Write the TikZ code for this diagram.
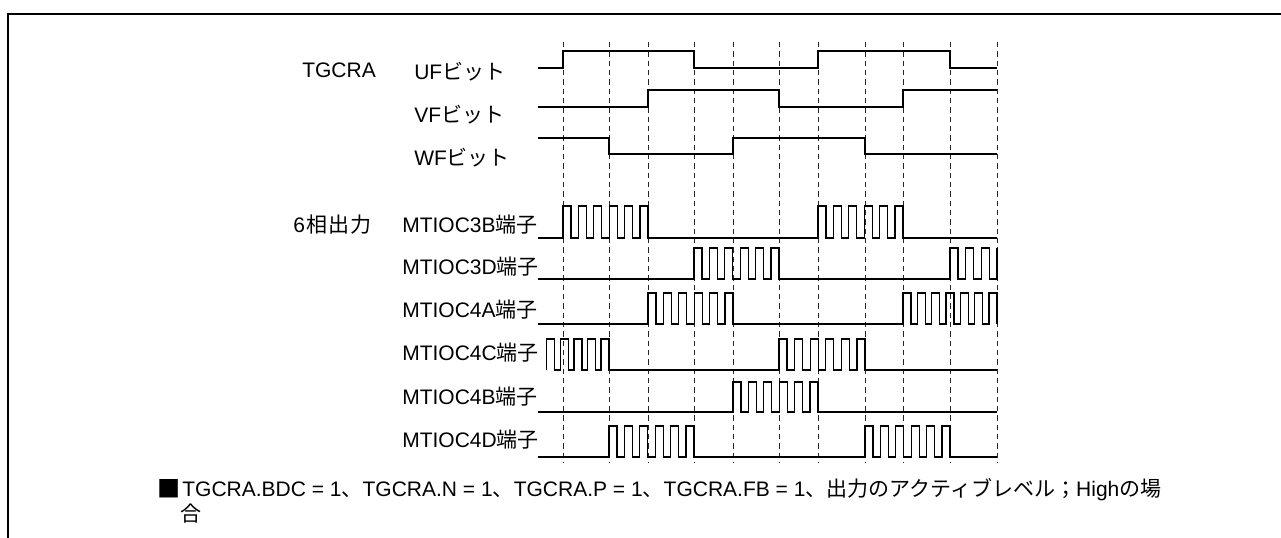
\documentclass[tikz,border=0pt]{standalone}
\usepackage{fontspec}
\usepackage{graphicx}
\setmainfont{Liberation Sans}
\newfontfamily\jpfont{Noto Sans CJK JP}
\newcommand\jtxt[1]{{\jpfont #1}}
% start, period, count-1, low level, high level
\newcommand\pulses[5]{foreach \i in {0,...,#3} { -- ({#1+\i*#2},#4) -- ({#1+\i*#2},#5) -- ({#1+\i*#2+8},#5) -- ({#1+\i*#2+8},#4) }}
\begin{document}
\begin{tikzpicture}[x=0.75pt,y=-0.75pt,
  sig/.style={line width=0.95pt,line join=miter},
  dashline/.style={line width=0.7pt,black!85,dash pattern=on 4pt off 3pt},
  lbl/.style={anchor=west,inner sep=0pt,font=\fontsize{15.75}{18}\selectfont},
  frame/.style={line width=2.2pt,line join=miter}]
\useasboundingbox (0,0) rectangle (1281,538);
\draw[frame] (1290,14) -- (8,14) -- (8,545);
% dashed time markers
\foreach \x in {563,609,648,694,733,779,818,865,903,950,997}
  \draw[dashline] (\x,42) -- (\x,463);
% labels
\node[lbl] (tgcra) at (302,70) {TGCRA};
\node[lbl] (uf) at (414,72) {UF\jtxt{ビット}};
\node[lbl] (vf) at (414,115) {VF\jtxt{ビット}};
\node[lbl] (wf) at (414,158) {WF\jtxt{ビット}};
\node[lbl] (six) at (293,225) {6\jtxt{\kern1pt 相\kern1pt 出\kern1pt 力}};
\node[lbl] (l3b) at (402,225) {MTIOC3B\jtxt{端子}};
\node[lbl] (l3d) at (402,267) {MTIOC3D\jtxt{端子}};
\node[lbl] (l4a) at (402,310) {MTIOC4A\jtxt{端子}};
\node[lbl] (l4c) at (402,353) {MTIOC4C\jtxt{端子}};
\node[lbl] (l4b) at (402,397) {MTIOC4B\jtxt{端子}};
\node[lbl] (l4d) at (402,440) {MTIOC4D\jtxt{端子}};
\node[lbl] (note1) at (157,490) {\raisebox{-0.02em}{\scalebox{1.1}{\jtxt{■}}}\kern1.5pt TGCRA.BDC = 1\jtxt{、}TGCRA.N = 1\jtxt{、}TGCRA.P = 1\jtxt{、}TGCRA.FB = 1\jtxt{、出力のアクティブレベル；}High\jtxt{の場}};
\node[lbl] (note2) at (180,514) {\jtxt{合}};
% TGCRA bits
\draw[sig] (538,68) -- (563,68) -- (563,51) -- (694,51) -- (694,68) -- (818,68) -- (818,51) -- (950,51) -- (950,68) -- (997,68);
\draw[sig] (538,107) -- (648,107) -- (648,90) -- (779,90) -- (779,107) -- (903,107) -- (903,90) -- (997,90);
\draw[sig] (538,138) -- (609,138) -- (609,154) -- (733,154) -- (733,138) -- (865,138) -- (865,154) -- (997,154);
% six-phase outputs
\draw[sig] (538,238) \pulses{563}{15.4}{5}{238}{206} \pulses{818}{15.4}{5}{238}{206} -- (997,238);
\draw[sig] (538,279) \pulses{694}{15.4}{5}{279}{248} \pulses{950}{15.67}{2}{279}{248} -- (997,279) -- (997,248);
\draw[sig] (538,324) \pulses{648}{15.4}{5}{324}{293} \pulses{903}{14.33}{6}{324}{293};
\draw[sig] (546.7,370) \pulses{546.7}{13.6}{4}{370}{339} \pulses{779}{15.6}{5}{370}{339} -- (997,370);
\draw[sig] (538,412) \pulses{733}{15.4}{5}{412}{382} -- (997,412);
\draw[sig] (538,457) \pulses{609}{15.4}{5}{457}{426} \pulses{865}{15.4}{5}{457}{426} -- (997,457);
\end{tikzpicture}
\end{document}
